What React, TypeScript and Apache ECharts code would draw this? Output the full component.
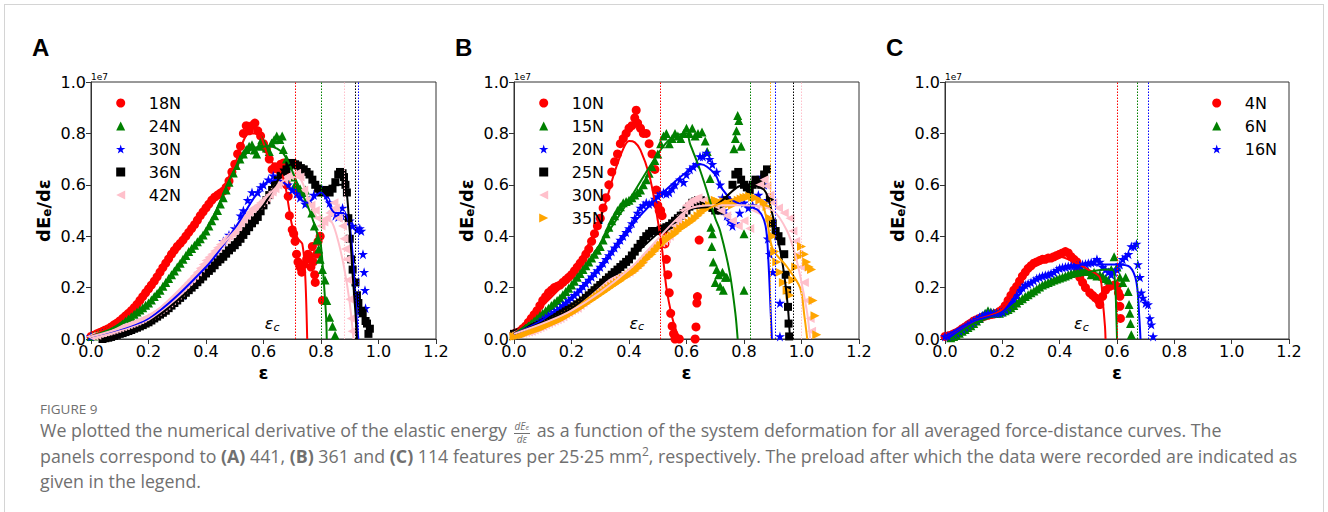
import React, { useEffect, useRef } from "react";
import * as echarts from "echarts";

// ---------- symbols & colours ----------
const STAR = "path://M50,2 L61,36 L97,36 L68,57 L79,92 L50,71 L21,92 L32,57 L3,36 L39,36 Z";
const TRI_LEFT = "path://M0,50 L100,0 L100,100 Z";
const TRI_RIGHT = "path://M100,50 L0,0 L0,100 Z";
const TRI_UP = "path://M50,0 L100,100 L0,100 Z";
const SQUARE = "path://M0,0 L100,0 L100,100 L0,100 Z";
const CIRCLE = "path://M50,0 A50,50 0 1,1 49.99,0 Z";
const RED = "#ff0000", GREEN = "#008000", BLUE = "#0000ff", BLACK = "#000000", PINK = "#ffc0cb", ORANGE = "#ffa500";

// ---------- panel A (dEe/dε in 1e7) ----------
const namesA = ["18N", "24N", "30N", "36N", "42N"];
const critA = [0.712, 0.8, 0.93, 0.924, 0.883];
const a18 = [[0,0.01],[0.01,0.015],[0.02,0.02],[0.03,0.025],[0.04,0.03],[0.05,0.035],[0.06,0.04],[0.07,0.047],[0.08,0.055],[0.09,0.062],[0.1,0.07],[0.11,0.08],[0.12,0.09],[0.13,0.1],[0.14,0.11],[0.15,0.122],[0.16,0.135],[0.17,0.15],[0.18,0.165],[0.19,0.18],[0.2,0.195],[0.21,0.21],[0.22,0.225],[0.23,0.242],[0.24,0.26],[0.25,0.278],[0.26,0.295],[0.27,0.312],[0.28,0.33],[0.29,0.345],[0.3,0.36],[0.31,0.372],[0.32,0.385],[0.33,0.4],[0.34,0.415],[0.35,0.43],[0.36,0.445],[0.37,0.462],[0.38,0.48],[0.39,0.495],[0.4,0.51],[0.41,0.525],[0.42,0.54],[0.43,0.552],[0.44,0.56],[0.45,0.568],[0.46,0.575],[0.47,0.59],[0.48,0.615],[0.49,0.65],[0.5,0.68],[0.51,0.72],[0.52,0.75],[0.53,0.8],[0.54,0.83],[0.55,0.81],[0.56,0.83],[0.57,0.84],[0.58,0.81],[0.59,0.79],[0.6,0.76],[0.61,0.74],[0.62,0.7],[0.63,0.66],[0.64,0.67],[0.65,0.66],[0.66,0.68],[0.67,0.685],[0.675,0.65],[0.68,0.6],[0.686,0.555],[0.69,0.48],[0.7,0.425],[0.705,0.41],[0.71,0.38],[0.715,0.33],[0.72,0.3],[0.727,0.28],[0.733,0.26],[0.74,0.29],[0.75,0.31],[0.755,0.33],[0.76,0.32],[0.765,0.28],[0.77,0.36],[0.773,0.3],[0.778,0.25],[0.78,0.22],[0.785,0.33],[0.79,0.38],[0.797,0.4],[0.805,0.15]];
const a24 = [[0,0.01],[0.01,0.012],[0.02,0.015],[0.03,0.018],[0.04,0.022],[0.05,0.027],[0.06,0.032],[0.07,0.037],[0.08,0.043],[0.09,0.049],[0.1,0.055],[0.11,0.062],[0.12,0.07],[0.13,0.078],[0.14,0.087],[0.15,0.096],[0.16,0.105],[0.17,0.113],[0.18,0.122],[0.19,0.131],[0.2,0.14],[0.21,0.152],[0.22,0.165],[0.23,0.177],[0.24,0.19],[0.25,0.205],[0.26,0.22],[0.27,0.235],[0.28,0.25],[0.29,0.265],[0.3,0.28],[0.31,0.295],[0.32,0.31],[0.33,0.325],[0.34,0.34],[0.35,0.352],[0.36,0.365],[0.37,0.378],[0.38,0.39],[0.39,0.405],[0.4,0.42],[0.41,0.44],[0.42,0.46],[0.43,0.48],[0.44,0.5],[0.45,0.525],[0.46,0.55],[0.47,0.58],[0.48,0.61],[0.495,0.646],[0.505,0.675],[0.518,0.7],[0.53,0.72],[0.54,0.737],[0.55,0.75],[0.56,0.756],[0.568,0.735],[0.576,0.72],[0.585,0.75],[0.594,0.775],[0.602,0.76],[0.61,0.743],[0.62,0.73],[0.628,0.763],[0.637,0.775],[0.646,0.79],[0.657,0.776],[0.665,0.79],[0.669,0.737],[0.68,0.7],[0.69,0.68],[0.7,0.63],[0.71,0.6],[0.72,0.59],[0.727,0.585],[0.735,0.57],[0.745,0.58],[0.755,0.54],[0.768,0.49],[0.777,0.44],[0.786,0.385],[0.792,0.35],[0.797,0.31],[0.805,0.27],[0.814,0.23],[0.82,0.15],[0.83,0.085],[0.84,0.05],[0.849,0.015]];
const a30 = [[0,0.01],[0.04,0.02],[0.08,0.03],[0.12,0.045],[0.16,0.06],[0.2,0.08],[0.24,0.105],[0.28,0.135],[0.32,0.17],[0.36,0.22],[0.4,0.28],[0.43,0.33],[0.46,0.38],[0.48,0.405],[0.5,0.43],[0.52,0.48],[0.53,0.5],[0.545,0.54],[0.56,0.57],[0.58,0.57],[0.59,0.59],[0.6,0.6],[0.617,0.62],[0.634,0.635],[0.65,0.62],[0.665,0.61],[0.685,0.6],[0.7,0.58],[0.715,0.565],[0.727,0.55],[0.745,0.525],[0.76,0.54],[0.775,0.56],[0.79,0.575],[0.805,0.58],[0.82,0.56],[0.83,0.53],[0.84,0.49],[0.85,0.48],[0.86,0.475],[0.875,0.51],[0.885,0.48],[0.9,0.46],[0.91,0.44],[0.925,0.425],[0.935,0.43],[0.94,0.42],[0.946,0.33],[0.95,0.26],[0.953,0.19],[0.955,0.12]];
const a36 = [[0.04,0],[0.05,0.003],[0.06,0.005],[0.07,0.008],[0.08,0.012],[0.09,0.016],[0.1,0.02],[0.11,0.023],[0.12,0.027],[0.13,0.031],[0.14,0.035],[0.15,0.04],[0.16,0.044],[0.17,0.049],[0.18,0.054],[0.19,0.06],[0.2,0.065],[0.21,0.072],[0.22,0.08],[0.23,0.087],[0.24,0.095],[0.25,0.102],[0.26,0.11],[0.27,0.12],[0.28,0.13],[0.29,0.14],[0.3,0.15],[0.31,0.16],[0.32,0.17],[0.33,0.18],[0.34,0.19],[0.35,0.2],[0.36,0.21],[0.37,0.221],[0.38,0.232],[0.39,0.243],[0.4,0.255],[0.41,0.265],[0.42,0.275],[0.43,0.287],[0.44,0.3],[0.45,0.31],[0.46,0.32],[0.47,0.332],[0.48,0.345],[0.49,0.355],[0.5,0.365],[0.51,0.377],[0.52,0.39],[0.53,0.405],[0.54,0.42],[0.55,0.435],[0.56,0.45],[0.57,0.462],[0.58,0.475],[0.59,0.497],[0.6,0.52],[0.61,0.54],[0.62,0.56],[0.63,0.58],[0.64,0.6],[0.65,0.618],[0.66,0.635],[0.67,0.648],[0.68,0.66],[0.69,0.675],[0.7,0.685],[0.71,0.68],[0.72,0.675],[0.73,0.665],[0.74,0.66],[0.75,0.65],[0.76,0.64],[0.77,0.62],[0.78,0.6],[0.79,0.585],[0.8,0.57],[0.81,0.575],[0.82,0.58],[0.83,0.57],[0.84,0.585],[0.85,0.61],[0.86,0.64],[0.866,0.65],[0.875,0.645],[0.88,0.63],[0.885,0.6],[0.89,0.57],[0.895,0.47],[0.9,0.39],[0.905,0.31],[0.91,0.27],[0.92,0.22],[0.925,0.17],[0.93,0.14],[0.94,0.11],[0.945,0.1],[0.955,0.07],[0.96,0.06],[0.965,0.02],[0.97,0.04]];
const a42 = [[0,0.01],[0.01,0.012],[0.02,0.015],[0.03,0.018],[0.04,0.02],[0.05,0.024],[0.06,0.027],[0.07,0.031],[0.08,0.035],[0.09,0.039],[0.1,0.043],[0.11,0.047],[0.12,0.05],[0.13,0.054],[0.14,0.058],[0.15,0.062],[0.16,0.067],[0.17,0.072],[0.18,0.077],[0.19,0.082],[0.2,0.087],[0.21,0.093],[0.22,0.1],[0.23,0.107],[0.24,0.115],[0.25,0.122],[0.26,0.13],[0.27,0.14],[0.28,0.15],[0.29,0.16],[0.3,0.17],[0.31,0.182],[0.32,0.195],[0.33,0.207],[0.34,0.22],[0.35,0.232],[0.36,0.245],[0.37,0.26],[0.38,0.275],[0.39,0.29],[0.4,0.305],[0.41,0.318],[0.42,0.33],[0.43,0.342],[0.44,0.355],[0.45,0.368],[0.46,0.38],[0.47,0.39],[0.48,0.4],[0.49,0.41],[0.5,0.42],[0.51,0.435],[0.52,0.45],[0.53,0.465],[0.54,0.48],[0.55,0.492],[0.56,0.505],[0.57,0.512],[0.58,0.52],[0.59,0.53],[0.6,0.54],[0.61,0.55],[0.62,0.56],[0.63,0.572],[0.64,0.585],[0.65,0.598],[0.66,0.61],[0.67,0.62],[0.68,0.63],[0.69,0.635],[0.7,0.64],[0.715,0.645],[0.727,0.63],[0.74,0.58],[0.75,0.54],[0.765,0.52],[0.78,0.5],[0.79,0.47],[0.8,0.44],[0.81,0.455],[0.82,0.47],[0.83,0.49],[0.84,0.5],[0.845,0.53],[0.85,0.51],[0.86,0.47],[0.875,0.44],[0.88,0.39],[0.885,0.35],[0.89,0.31],[0.895,0.23],[0.9,0.155],[0.905,0.08],[0.908,0.03]];
const a18Fit = [[0,0.01],[0.1,0.07],[0.2,0.195],[0.3,0.36],[0.4,0.51],[0.45,0.57],[0.5,0.68],[0.55,0.8],[0.58,0.8],[0.62,0.7],[0.66,0.65],[0.675,0.6],[0.69,0.5],[0.7,0.44],[0.72,0.39],[0.735,0.37],[0.745,0.25],[0.752,0]];
const a24Fit = [[0,0.01],[0.1,0.055],[0.2,0.14],[0.3,0.28],[0.4,0.42],[0.5,0.66],[0.56,0.74],[0.62,0.75],[0.67,0.72],[0.72,0.6],[0.76,0.5],[0.79,0.4],[0.8,0.36],[0.81,0.22],[0.818,0.08],[0.82,0]];
const a30Fit = [[0,0.01],[0.2,0.08],[0.4,0.28],[0.5,0.43],[0.6,0.6],[0.65,0.62],[0.7,0.58],[0.75,0.53],[0.8,0.57],[0.85,0.49],[0.88,0.49],[0.9,0.44],[0.918,0.2],[0.926,0.05],[0.93,0]];
const a36Fit = [[0.04,0],[0.2,0.065],[0.4,0.255],[0.6,0.52],[0.7,0.68],[0.75,0.65],[0.8,0.58],[0.85,0.6],[0.88,0.6],[0.9,0.42],[0.91,0.25],[0.92,0.1],[0.925,0]];
const a42Fit = [[0,0.01],[0.2,0.087],[0.4,0.3],[0.5,0.42],[0.6,0.54],[0.7,0.63],[0.73,0.62],[0.76,0.53],[0.8,0.46],[0.82,0.47],[0.84,0.45],[0.86,0.38],[0.88,0.28],[0.9,0.14],[0.913,0]];

// ---------- panel B ----------
const namesB = ["10N", "15N", "20N", "25N", "30N", "35N"];
const critB = [0.514, 0.823, 0.905, 0.974, 1.0, 0.894];
const b10 = [[0,0.02],[0.01,0.025],[0.02,0.03],[0.03,0.04],[0.04,0.05],[0.05,0.065],[0.06,0.08],[0.07,0.095],[0.08,0.11],[0.09,0.13],[0.1,0.15],[0.11,0.165],[0.12,0.18],[0.13,0.19],[0.14,0.2],[0.15,0.205],[0.16,0.21],[0.17,0.22],[0.18,0.23],[0.19,0.24],[0.2,0.25],[0.21,0.265],[0.22,0.28],[0.23,0.295],[0.24,0.31],[0.25,0.33],[0.26,0.35],[0.27,0.38],[0.28,0.41],[0.29,0.44],[0.3,0.47],[0.31,0.51],[0.32,0.55],[0.33,0.6],[0.34,0.65],[0.35,0.69],[0.36,0.72],[0.37,0.76],[0.38,0.78],[0.39,0.8],[0.4,0.82],[0.41,0.83],[0.42,0.86],[0.425,0.89],[0.43,0.84],[0.44,0.82],[0.45,0.8],[0.46,0.8],[0.47,0.76],[0.48,0.72],[0.49,0.66],[0.495,0.58],[0.5,0.52],[0.505,0.5],[0.51,0.5],[0.515,0.48],[0.52,0.42],[0.525,0.37],[0.53,0.31],[0.535,0.25],[0.54,0.18],[0.545,0.1],[0.55,0.05],[0.555,0.02],[0.56,0.0],[0.575,0.0],[0.63,0.0],[0.633,0.047],[0.636,0.14],[0.638,0.165],[0.644,0.385]];
const b15 = [[0,0.02],[0.01,0.025],[0.02,0.03],[0.03,0.037],[0.04,0.045],[0.05,0.052],[0.06,0.06],[0.07,0.07],[0.08,0.08],[0.09,0.09],[0.1,0.1],[0.11,0.11],[0.12,0.12],[0.13,0.13],[0.14,0.14],[0.15,0.15],[0.16,0.16],[0.17,0.172],[0.18,0.185],[0.19,0.197],[0.2,0.21],[0.21,0.225],[0.22,0.24],[0.23,0.255],[0.24,0.27],[0.25,0.285],[0.26,0.3],[0.27,0.315],[0.28,0.33],[0.29,0.345],[0.3,0.36],[0.31,0.385],[0.32,0.41],[0.33,0.435],[0.34,0.46],[0.35,0.48],[0.36,0.5],[0.37,0.515],[0.38,0.53],[0.39,0.535],[0.4,0.54],[0.41,0.55],[0.42,0.56],[0.43,0.57],[0.44,0.58],[0.45,0.6],[0.46,0.62],[0.47,0.645],[0.48,0.67],[0.49,0.695],[0.5,0.72],[0.51,0.76],[0.52,0.79],[0.53,0.8],[0.54,0.76],[0.55,0.78],[0.56,0.8],[0.57,0.79],[0.58,0.78],[0.59,0.8],[0.6,0.82],[0.61,0.8],[0.62,0.82],[0.63,0.79],[0.64,0.8],[0.654,0.805],[0.665,0.77],[0.672,0.73],[0.682,0.625],[0.685,0.435],[0.688,0.36],[0.69,0.41],[0.693,0.3],[0.7,0.22],[0.705,0.27],[0.712,0.25],[0.717,0.205],[0.725,0.26],[0.728,0.19],[0.735,0.24],[0.74,0.24],[0.765,0.74],[0.77,0.78],[0.774,0.81],[0.778,0.87],[0.782,0.85],[0.79,0.75],[0.8,0.41],[0.8,0.19]];
const b20 = [[0,0.02],[0.01,0.022],[0.02,0.025],[0.03,0.03],[0.04,0.035],[0.05,0.04],[0.06,0.045],[0.07,0.052],[0.08,0.06],[0.09,0.067],[0.1,0.075],[0.11,0.082],[0.12,0.09],[0.13,0.097],[0.14,0.105],[0.15,0.112],[0.16,0.12],[0.17,0.13],[0.18,0.14],[0.19,0.15],[0.2,0.16],[0.21,0.17],[0.22,0.18],[0.23,0.192],[0.24,0.205],[0.25,0.217],[0.26,0.23],[0.27,0.242],[0.28,0.255],[0.29,0.267],[0.3,0.28],[0.31,0.295],[0.32,0.31],[0.33,0.325],[0.34,0.34],[0.35,0.355],[0.36,0.37],[0.37,0.385],[0.38,0.4],[0.39,0.415],[0.4,0.43],[0.41,0.45],[0.42,0.47],[0.43,0.49],[0.44,0.51],[0.45,0.52],[0.46,0.53],[0.47,0.525],[0.48,0.53],[0.49,0.545],[0.5,0.555],[0.51,0.565],[0.52,0.57],[0.53,0.565],[0.54,0.57],[0.55,0.585],[0.56,0.6],[0.577,0.62],[0.59,0.61],[0.6,0.64],[0.612,0.66],[0.624,0.67],[0.635,0.68],[0.647,0.71],[0.657,0.71],[0.67,0.724],[0.68,0.7],[0.69,0.68],[0.705,0.65],[0.717,0.6],[0.725,0.55],[0.73,0.5],[0.74,0.48],[0.75,0.46],[0.76,0.44],[0.77,0.45],[0.785,0.49],[0.8,0.53],[0.815,0.51],[0.83,0.52],[0.85,0.56],[0.86,0.63],[0.87,0.6],[0.883,0.54],[0.883,0.39],[0.89,0.33],[0.9,0.26],[0.925,0.14],[0.925,0.01]];
const b25 = [[0,0.02],[0.01,0.022],[0.02,0.025],[0.03,0.029],[0.04,0.033],[0.05,0.037],[0.06,0.042],[0.07,0.046],[0.08,0.05],[0.09,0.055],[0.1,0.06],[0.11,0.065],[0.12,0.07],[0.13,0.075],[0.14,0.08],[0.15,0.087],[0.16,0.095],[0.17,0.1],[0.18,0.107],[0.19,0.113],[0.2,0.12],[0.21,0.127],[0.22,0.135],[0.23,0.142],[0.24,0.15],[0.25,0.16],[0.26,0.17],[0.27,0.18],[0.28,0.19],[0.29,0.2],[0.3,0.21],[0.31,0.22],[0.32,0.23],[0.33,0.24],[0.34,0.25],[0.35,0.26],[0.36,0.27],[0.37,0.28],[0.38,0.29],[0.39,0.3],[0.4,0.31],[0.41,0.325],[0.42,0.34],[0.43,0.355],[0.44,0.37],[0.45,0.385],[0.46,0.4],[0.47,0.41],[0.48,0.42],[0.49,0.42],[0.5,0.42],[0.51,0.425],[0.52,0.43],[0.53,0.435],[0.54,0.44],[0.55,0.45],[0.56,0.46],[0.57,0.47],[0.58,0.48],[0.59,0.49],[0.6,0.5],[0.61,0.515],[0.62,0.53],[0.63,0.535],[0.64,0.54],[0.65,0.54],[0.66,0.535],[0.67,0.528],[0.68,0.52],[0.69,0.51],[0.7,0.5],[0.72,0.5],[0.74,0.54],[0.76,0.6],[0.77,0.64],[0.78,0.65],[0.79,0.62],[0.8,0.6],[0.81,0.59],[0.82,0.58],[0.83,0.6],[0.84,0.62],[0.85,0.61],[0.86,0.6],[0.87,0.64],[0.88,0.66],[0.89,0.55],[0.9,0.45],[0.91,0.42],[0.92,0.4],[0.93,0.38],[0.94,0.33],[0.945,0.25],[0.95,0.19],[0.953,0.125],[0.955,0.06],[0.957,0.01]];
const b30 = [[0,0.02],[0.01,0.02],[0.02,0.02],[0.03,0.022],[0.04,0.025],[0.05,0.027],[0.06,0.03],[0.07,0.035],[0.08,0.04],[0.09,0.045],[0.1,0.05],[0.11,0.055],[0.12,0.06],[0.13,0.065],[0.14,0.07],[0.15,0.075],[0.16,0.08],[0.17,0.087],[0.18,0.095],[0.19,0.102],[0.2,0.11],[0.21,0.115],[0.22,0.12],[0.23,0.13],[0.24,0.14],[0.25,0.15],[0.26,0.16],[0.27,0.17],[0.28,0.18],[0.29,0.19],[0.3,0.2],[0.31,0.207],[0.32,0.215],[0.33,0.222],[0.34,0.23],[0.35,0.235],[0.36,0.24],[0.37,0.245],[0.38,0.25],[0.39,0.255],[0.4,0.26],[0.41,0.27],[0.42,0.28],[0.43,0.29],[0.44,0.3],[0.45,0.315],[0.46,0.33],[0.47,0.34],[0.48,0.35],[0.49,0.36],[0.5,0.37],[0.51,0.375],[0.52,0.38],[0.53,0.39],[0.54,0.4],[0.55,0.42],[0.56,0.44],[0.57,0.46],[0.58,0.48],[0.59,0.5],[0.6,0.52],[0.61,0.53],[0.62,0.54],[0.63,0.545],[0.64,0.55],[0.66,0.54],[0.68,0.52],[0.7,0.52],[0.72,0.5],[0.74,0.48],[0.76,0.46],[0.78,0.44],[0.8,0.46],[0.82,0.43],[0.84,0.5],[0.855,0.6],[0.87,0.62],[0.88,0.595],[0.89,0.56],[0.9,0.53],[0.92,0.51],[0.94,0.49],[0.96,0.47],[0.97,0.42],[0.98,0.38],[0.99,0.33],[1.0,0.28],[1.01,0.22],[1.02,0.15],[1.03,0.08],[1.035,0.03]];
const b35 = [[0,0.01],[0.01,0.012],[0.02,0.015],[0.03,0.017],[0.04,0.02],[0.05,0.025],[0.06,0.03],[0.07,0.033],[0.08,0.037],[0.09,0.041],[0.1,0.045],[0.11,0.05],[0.12,0.055],[0.13,0.06],[0.14,0.065],[0.15,0.07],[0.16,0.075],[0.17,0.081],[0.18,0.088],[0.19,0.094],[0.2,0.1],[0.21,0.107],[0.22,0.115],[0.23,0.122],[0.24,0.13],[0.25,0.137],[0.26,0.145],[0.27,0.152],[0.28,0.16],[0.29,0.167],[0.3,0.175],[0.31,0.182],[0.32,0.19],[0.33,0.197],[0.34,0.205],[0.35,0.212],[0.36,0.22],[0.37,0.227],[0.38,0.235],[0.39,0.242],[0.4,0.25],[0.41,0.257],[0.42,0.265],[0.43,0.275],[0.44,0.285],[0.45,0.297],[0.46,0.31],[0.47,0.32],[0.48,0.33],[0.49,0.342],[0.5,0.355],[0.51,0.367],[0.52,0.38],[0.53,0.387],[0.54,0.395],[0.55,0.402],[0.56,0.41],[0.57,0.42],[0.58,0.43],[0.59,0.437],[0.6,0.445],[0.61,0.452],[0.62,0.46],[0.63,0.47],[0.64,0.48],[0.65,0.49],[0.66,0.5],[0.67,0.51],[0.68,0.52],[0.69,0.53],[0.7,0.54],[0.71,0.535],[0.72,0.53],[0.73,0.535],[0.74,0.53],[0.75,0.525],[0.76,0.52],[0.77,0.53],[0.78,0.54],[0.79,0.545],[0.8,0.55],[0.81,0.552],[0.82,0.555],[0.83,0.552],[0.84,0.55],[0.855,0.54],[0.87,0.53],[0.88,0.516],[0.89,0.47],[0.9,0.4],[0.907,0.34],[0.914,0.3],[0.925,0.26],[0.937,0.22],[0.95,0.19],[0.96,0.17],[0.97,0.23],[0.98,0.28],[0.99,0.32],[1.0,0.36],[1.01,0.33],[1.018,0.3],[1.027,0.28],[1.035,0.27],[1.04,0.15],[1.047,0.09],[1.053,0.017]];
const b10Fit = [[0,0.02],[0.1,0.13],[0.2,0.25],[0.3,0.47],[0.35,0.65],[0.38,0.74],[0.4,0.77],[0.42,0.765],[0.44,0.735],[0.47,0.64],[0.49,0.53],[0.515,0.35],[0.53,0.2],[0.55,0.085],[0.565,0.03],[0.58,0]];
const b15Fit = [[0,0.02],[0.1,0.1],[0.2,0.21],[0.3,0.37],[0.4,0.54],[0.5,0.72],[0.55,0.785],[0.6,0.8],[0.612,0.76],[0.64,0.68],[0.67,0.58],[0.7,0.47],[0.717,0.42],[0.75,0.26],[0.77,0.1],[0.778,0]];
const b20Fit = [[0,0.02],[0.1,0.075],[0.2,0.16],[0.3,0.28],[0.4,0.43],[0.5,0.55],[0.6,0.65],[0.65,0.68],[0.7,0.64],[0.72,0.59],[0.76,0.54],[0.8,0.52],[0.85,0.5],[0.875,0.44],[0.885,0.3],[0.893,0.1],[0.897,0]];
const b25Fit = [[0,0.02],[0.2,0.12],[0.4,0.31],[0.6,0.5],[0.7,0.52],[0.8,0.6],[0.87,0.58],[0.9,0.48],[0.925,0.35],[0.94,0.25],[0.953,0.12],[0.96,0]];
const b30Fit = [[0,0.02],[0.2,0.11],[0.4,0.27],[0.6,0.5],[0.7,0.52],[0.8,0.52],[0.9,0.5],[0.95,0.42],[0.98,0.32],[1.0,0.22],[1.02,0.1],[1.03,0]];
const b35Fit = [[0,0.01],[0.2,0.1],[0.4,0.25],[0.6,0.45],[0.7,0.52],[0.8,0.55],[0.856,0.54],[0.88,0.46],[0.9,0.35],[0.95,0.28],[0.995,0.2],[1.01,0.09],[1.02,0]];

// ---------- panel C ----------
const namesC = ["4N", "6N", "16N"];
const critC = [0.605, 0.666, 0.707];
const c4 = [[0,0.01],[0.01,0.012],[0.02,0.015],[0.03,0.02],[0.04,0.025],[0.05,0.032],[0.06,0.04],[0.07,0.047],[0.08,0.055],[0.09,0.062],[0.1,0.07],[0.11,0.075],[0.12,0.08],[0.13,0.085],[0.14,0.09],[0.15,0.092],[0.16,0.095],[0.17,0.097],[0.18,0.1],[0.19,0.107],[0.2,0.115],[0.21,0.13],[0.22,0.15],[0.23,0.17],[0.24,0.19],[0.25,0.205],[0.26,0.225],[0.27,0.245],[0.28,0.26],[0.29,0.275],[0.3,0.285],[0.31,0.295],[0.32,0.3],[0.33,0.305],[0.34,0.31],[0.35,0.31],[0.36,0.315],[0.37,0.315],[0.38,0.32],[0.39,0.325],[0.4,0.33],[0.41,0.335],[0.42,0.34],[0.43,0.335],[0.44,0.32],[0.45,0.31],[0.46,0.3],[0.465,0.27],[0.47,0.24],[0.48,0.22],[0.49,0.2],[0.505,0.18],[0.515,0.17],[0.525,0.16],[0.535,0.15],[0.54,0.134],[0.55,0.166],[0.56,0.19],[0.575,0.205],[0.59,0.21],[0.6,0.205],[0.605,0.18],[0.61,0.166],[0.61,0.127],[0.612,0.08]];
const c6 = [[0.02,0.005],[0.03,0.01],[0.04,0.015],[0.05,0.022],[0.06,0.03],[0.07,0.037],[0.08,0.045],[0.09,0.052],[0.1,0.06],[0.11,0.07],[0.12,0.08],[0.13,0.09],[0.14,0.1],[0.15,0.11],[0.16,0.105],[0.17,0.102],[0.18,0.1],[0.19,0.1],[0.2,0.105],[0.21,0.11],[0.22,0.115],[0.23,0.122],[0.24,0.13],[0.25,0.14],[0.26,0.15],[0.27,0.157],[0.28,0.165],[0.29,0.172],[0.3,0.18],[0.31,0.187],[0.32,0.195],[0.33,0.202],[0.34,0.21],[0.35,0.215],[0.36,0.22],[0.37,0.225],[0.38,0.23],[0.39,0.233],[0.4,0.237],[0.41,0.241],[0.42,0.245],[0.43,0.25],[0.44,0.255],[0.45,0.258],[0.46,0.26],[0.47,0.262],[0.48,0.265],[0.49,0.265],[0.5,0.263],[0.51,0.25],[0.52,0.26],[0.53,0.245],[0.54,0.25],[0.55,0.244],[0.56,0.235],[0.57,0.23],[0.58,0.27],[0.59,0.32],[0.6,0.28],[0.61,0.24],[0.62,0.22],[0.63,0.24],[0.639,0.185],[0.642,0.134],[0.645,0.1],[0.647,0.06],[0.65,0.017]];
const c16 = [[0,0.01],[0.01,0.012],[0.02,0.015],[0.03,0.02],[0.04,0.025],[0.05,0.032],[0.06,0.04],[0.07,0.047],[0.08,0.055],[0.09,0.062],[0.1,0.07],[0.11,0.077],[0.12,0.085],[0.13,0.09],[0.14,0.095],[0.15,0.098],[0.16,0.1],[0.17,0.1],[0.18,0.1],[0.19,0.102],[0.2,0.105],[0.21,0.115],[0.22,0.125],[0.23,0.14],[0.24,0.155],[0.25,0.17],[0.26,0.19],[0.27,0.2],[0.28,0.21],[0.29,0.215],[0.3,0.22],[0.31,0.227],[0.32,0.235],[0.33,0.24],[0.34,0.245],[0.35,0.248],[0.36,0.25],[0.37,0.255],[0.38,0.26],[0.39,0.268],[0.4,0.275],[0.41,0.278],[0.42,0.28],[0.43,0.283],[0.44,0.285],[0.45,0.285],[0.46,0.285],[0.47,0.287],[0.48,0.29],[0.49,0.292],[0.5,0.295],[0.51,0.298],[0.52,0.3],[0.53,0.31],[0.54,0.3],[0.55,0.28],[0.56,0.27],[0.57,0.26],[0.58,0.25],[0.59,0.26],[0.6,0.27],[0.61,0.29],[0.62,0.31],[0.63,0.32],[0.64,0.33],[0.65,0.36],[0.66,0.36],[0.668,0.37],[0.673,0.29],[0.68,0.24],[0.685,0.18],[0.69,0.16],[0.7,0.14],[0.708,0.134],[0.715,0.08],[0.72,0.056],[0.726,0.01]];
const c4Fit = [[0,0.01],[0.1,0.07],[0.2,0.115],[0.3,0.28],[0.4,0.32],[0.45,0.3],[0.5,0.27],[0.54,0.24],[0.55,0.15],[0.558,0.05],[0.56,0]];
const c6Fit = [[0.02,0],[0.1,0.06],[0.2,0.105],[0.3,0.18],[0.4,0.24],[0.5,0.26],[0.56,0.27],[0.585,0.27],[0.594,0.2],[0.598,0.08],[0.6,0]];
const c16Fit = [[0,0.01],[0.1,0.07],[0.2,0.105],[0.3,0.22],[0.4,0.27],[0.5,0.29],[0.6,0.29],[0.645,0.28],[0.668,0.22],[0.678,0.08],[0.682,0]];

// ε_c label anchor (data coords) per panel
const ecLabel = [[0.63, 0.06], [0.427, 0.062], [0.476, 0.06]];
const panelLetters = ["A", "B", "C"];

// ---------- layout ----------
const GRIDS = [
  { left: 91, top: 82, width: 345, height: 257 },
  { left: 514, top: 82, width: 345, height: 257 },
  { left: 945, top: 82, width: 344, height: 257 },
];
const FONT = "DejaVu Sans";

type Sty = { color: string; symbol: string; icon: string; size: number };
const STY: Sty[] = [
  { color: RED, symbol: "circle", icon: CIRCLE, size: 9 },
  { color: GREEN, symbol: TRI_UP, icon: TRI_UP, size: 9 },
  { color: BLUE, symbol: STAR, icon: STAR, size: 10 },
  { color: BLACK, symbol: "rect", icon: SQUARE, size: 8 },
  { color: PINK, symbol: TRI_LEFT, icon: TRI_LEFT, size: 9 },
  { color: ORANGE, symbol: TRI_RIGHT, icon: TRI_RIGHT, size: 9 },
];

const panels = [
  { names: namesA, crit: critA, pts: [a18, a24, a30, a36, a42], fits: [a18Fit, a24Fit, a30Fit, a36Fit, a42Fit], sty: [0, 1, 2, 3, 4], legend: { left: 116, top: 95 } },
  { names: namesB, crit: critB, pts: [b10, b15, b20, b25, b30, b35], fits: [b10Fit, b15Fit, b20Fit, b25Fit, b30Fit, b35Fit], sty: [0, 1, 2, 3, 4, 5], legend: { left: 539, top: 95 } },
  { names: namesC, crit: critC, pts: [c4, c6, c16], fits: [c4Fit, c6Fit, c16Fit], sty: [0, 1, 2], legend: { left: 1212, top: 95 } },
];

function buildOption() {
  const grid: any[] = [], xAxis: any[] = [], yAxis: any[] = [], legend: any[] = [], series: any[] = [], graphic: any[] = [];
  const fmt = (v: number) => v.toFixed(1);
  panels.forEach((p, gi) => {
    const g = GRIDS[gi];
    grid.push({ ...g, show: true, borderColor: "#333", borderWidth: 1, containLabel: false });
    xAxis.push({
      type: "value", gridIndex: gi, min: 0, max: 1.2, interval: 0.2,
      name: "ε", nameLocation: "middle", nameGap: 20,
      nameTextStyle: { fontFamily: FONT, fontSize: 18, fontWeight: "bold", color: "#000" },
      axisLine: { show: true, onZero: false, lineStyle: { color: "#333", width: 1 } },
      axisTick: { show: true, inside: false, length: 5, lineStyle: { color: "#333" } },
      axisLabel: { margin: 4, fontFamily: FONT, fontSize: 16, color: "#000", formatter: fmt, showMinLabel: true, showMaxLabel: true },
      splitLine: { show: false },
    });
    yAxis.push({
      type: "value", gridIndex: gi, min: 0, max: 1.0, interval: 0.2,
      name: "dE{s|e}/dε", nameLocation: "middle", nameGap: 38, nameRotate: 90,
      nameTextStyle: {
        fontFamily: FONT, fontSize: 18, fontWeight: "bold", color: "#000", lineHeight: 20,
        rich: { s: { fontFamily: FONT, fontSize: 12, fontWeight: "bold", color: "#000", lineHeight: 10, verticalAlign: "bottom" } },
      },
      axisLine: { show: true, onZero: false, lineStyle: { color: "#333", width: 1 } },
      axisTick: { show: true, inside: false, length: 5, lineStyle: { color: "#333" } },
      axisLabel: { margin: 5, fontFamily: FONT, fontSize: 16, color: "#000", formatter: fmt },
      splitLine: { show: false },
    });
    legend.push({
      orient: "vertical", left: p.legend.left, top: p.legend.top, padding: 0,
      itemWidth: 46, itemHeight: 9, itemGap: 7, selectedMode: false, symbolKeepAspect: true,
      textStyle: { fontFamily: FONT, fontSize: 16, color: "#000", lineHeight: 16 },
      data: p.names.map((n, k) => ({ name: n, icon: STY[p.sty[k]].icon, itemStyle: { color: STY[p.sty[k]].color } })),
    });
    p.names.forEach((n, k) => {
      const s = STY[p.sty[k]];
      series.push({
        type: "scatter", name: n, xAxisIndex: gi, yAxisIndex: gi,
        symbol: s.symbol, symbolSize: s.size, itemStyle: { color: s.color, opacity: 1 },
        data: p.pts[k], z: 2, silent: true,
        markLine: {
          silent: true, symbol: ["none", "none"], label: { show: false },
          lineStyle: { type: [1.5, 1.5], color: s.color, width: 1, opacity: 1 },
          emphasis: { disabled: true },
          data: [{ xAxis: p.crit[k] }],
        },
      });
    });
    p.names.forEach((n, k) => {
      const s = STY[p.sty[k]];
      series.push({
        type: "line", name: n + " fit", xAxisIndex: gi, yAxisIndex: gi,
        showSymbol: false, symbol: "none", smooth: 0.3, data: p.fits[k], z: 3, silent: true,
        lineStyle: { color: s.color, width: 2 }, itemStyle: { color: s.color },
      });
    });
    graphic.push({ type: "text", left: g.left - 59, top: 35, style: { text: panelLetters[gi], font: "bold 24px 'Liberation Sans', Arial, sans-serif", fill: "#000" } });
    graphic.push({ type: "text", left: g.left, top: 72, style: { text: "1e7", font: `9px '${FONT}'`, fill: "#000" } });
    const [ex, ey] = ecLabel[gi];
    graphic.push({
      type: "text",
      x: g.left + (ex / 1.2) * g.width,
      y: g.top + g.height - ey * g.height,
      style: {
        text: "{e|ε}{c|c}", align: "center", verticalAlign: "middle",
        rich: {
          e: { fontFamily: FONT, fontStyle: "italic", fontSize: 16, lineHeight: 18, fill: "#000" },
          c: { fontFamily: FONT, fontStyle: "italic", fontSize: 11, lineHeight: 8, verticalAlign: "bottom", fill: "#000" },
        },
      },
    });
  });
  return { animation: false, backgroundColor: "transparent", grid, xAxis, yAxis, legend, series, graphic };
}

export default function App() {
  const ref = useRef<HTMLDivElement>(null);
  useEffect(() => {
    const chart = echarts.init(ref.current!, null, { renderer: "svg" });
    chart.setOption(buildOption());
    return () => chart.dispose();
  }, []);
  const cap: React.CSSProperties = { fontFamily: "'Open Sans', 'Noto Sans', sans-serif", color: "#707070" };
  return (
    <div style={{ position: "fixed", left: 0, top: 0, width: 1328, height: 512, background: "#fff", overflow: "hidden" }}>
      <div style={{ position: "absolute", left: 4, top: 4, width: 1320, height: 540, border: "1px solid #d4d4d4", boxSizing: "border-box" }} />
      <div ref={ref} style={{ position: "absolute", left: 0, top: 0, width: 1328, height: 392 }} />
      <div style={{ ...cap, position: "absolute", left: 40, top: 400, width: 1285 }}>
        <div style={{ fontSize: 13.5, lineHeight: "18px" }}>FIGURE 9</div>
        <div style={{ fontSize: 17.8, lineHeight: "25px", whiteSpace: "nowrap" }}>
          <div>
            We plotted the numerical derivative of the elastic energy{" "}
            <span style={{ display: "inline-flex", flexDirection: "column", alignItems: "center", verticalAlign: "middle", fontSize: 10, lineHeight: "10px", fontStyle: "italic", margin: "0 2px" }}>
              <span style={{ borderBottom: "1px solid #707070", padding: "0 1px" }}>dE<span style={{ fontSize: 7 }}>e</span></span>
              <span>dε</span>
            </span>{" "}
            as a function of the system deformation for all averaged force-distance curves. The
          </div>
          <div>
            panels correspond to <b>(A)</b> 441, <b>(B)</b> 361 and <b>(C)</b> 114 features per 25·25 mm<sup style={{ fontSize: 12, lineHeight: 0 }}>2</sup>, respectively. The preload after which the data were recorded are indicated as
          </div>
          <div>given in the legend.</div>
        </div>
      </div>
    </div>
  );
}
